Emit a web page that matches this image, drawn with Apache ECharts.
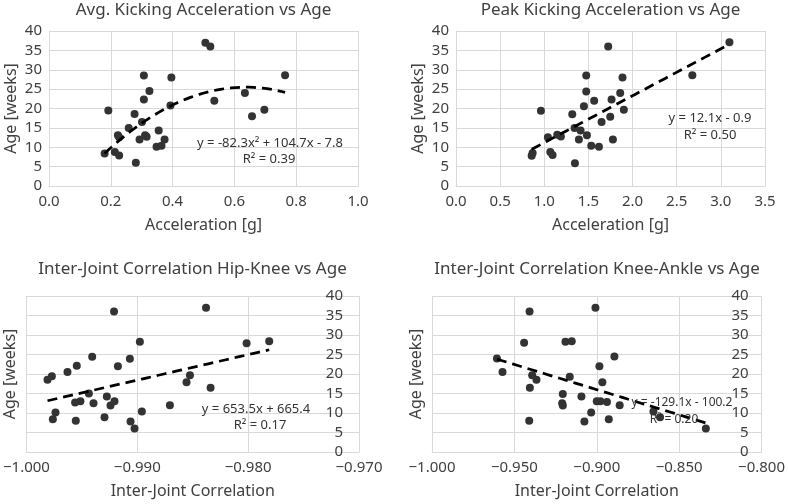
<!DOCTYPE html>
<html>
<head>
<meta charset="utf-8">
<script src="https://cdn.jsdelivr.net/npm/echarts@6/dist/echarts.min.js"></script>
<style>
  html, body { margin: 0; padding: 0; background: #fff; }
  #chart { width: 788px; height: 504px; }
</style>
</head>
<body>
<div id="chart"></div>
<script>
  // values
  var avgAccel = [0.506, 0.522, 0.764, 0.307, 0.396, 0.325, 0.634, 0.307, 0.535, 0.393, 0.697, 0.192, 0.277, 0.657, 0.301,
                  0.258, 0.355, 0.223, 0.227, 0.311, 0.316, 0.293, 0.374, 0.348, 0.364, 0.180, 0.213, 0.227, 0.281];
  var avgAge   = [37.0, 36.0, 28.6, 28.5, 28.0, 24.5, 24.0, 22.3, 22.0, 20.8, 19.7, 19.5, 18.6, 18.0, 16.5,
                  15.0, 14.3, 13.1, 12.6, 13.1, 12.7, 12.0, 12.0, 10.1, 10.4, 8.4, 8.8, 7.9, 6.0];

  var peakAccel = [3.097, 1.724, 2.677, 1.475, 1.886, 1.475, 1.860, 1.565, 1.762, 1.449, 0.962, 1.901, 1.317, 1.747, 1.649,
                   1.343, 1.411, 1.041, 1.147, 1.188, 1.483, 1.392, 1.777, 1.532, 1.619, 1.068, 1.094, 0.868, 0.857, 1.347];
  var peakAge   = [37.1, 36.0, 28.6, 28.5, 28.0, 24.4, 24.0, 22.0, 22.3, 20.6, 19.4, 19.7, 18.5, 17.9, 16.5,
                   15.0, 14.3, 12.6, 13.2, 12.8, 13.1, 12.0, 12.0, 10.4, 10.1, 8.8, 8.0, 8.5, 7.8, 5.9];

  var hipKnee = [-0.9838, -0.9921, -0.98977, -0.9781, -0.98014, -0.99407, -0.99067, -0.99546, -0.99175, -0.9963,
                 -0.99771, -0.9981, -0.98525, -0.98556, -0.98339, -0.99437, -0.99275, -0.99513, -0.99561, -0.99206,
                 -0.99242, -0.99395, -0.98706, -0.99738, -0.98959, -0.99296, -0.99762, -0.99555, -0.99061, -0.99025];
  var hipAge  = [37.0, 36.0, 28.3, 28.4, 27.9, 24.4, 23.9, 22.1, 22.0, 20.5,
                 19.4, 18.5, 19.7, 17.9, 16.5, 15.0, 14.2, 13.0, 12.7, 13.0,
                 11.9, 12.5, 12.0, 10.1, 10.4, 8.9, 8.4, 8.0, 7.8, 6.0];

  var kneeAnkle = [-0.9008, -0.9408, -0.9441, -0.9190, -0.9152, -0.8893, -0.9606, -0.8984, -0.9572, -0.9392,
                   -0.9164, -0.9366, -0.8966, -0.9406, -0.9206, -0.9093, -0.9000, -0.8978, -0.8938, -0.9210,
                   -0.9206, -0.8861, -0.8656, -0.9034, -0.8616, -0.8927, -0.9410, -0.9075, -0.8338];
  var ankleAge  = [37.0, 36.0, 28.0, 28.3, 28.4, 24.5, 24.0, 22.0, 20.5, 19.7,
                   19.3, 18.5, 17.9, 16.5, 14.9, 14.2, 13.0, 13.0, 12.8, 12.5,
                   11.9, 12.0, 10.4, 10.1, 8.9, 8.4, 8.0, 7.8, 6.0];

  // trendline coefficients as printed on the chart: a*x^2 + b*x + c
  var avgFit   = [-82.3, 104.7, -7.8];
  var peakFit  = [0, 12.1, -0.9];
  var hipFit   = [0, 653.5, 665.4];
  var ankleFit = [0, -129.1, -100.2];

  var titles = ['Avg. Kicking Acceleration vs Age', 'Peak Kicking Acceleration vs Age',
                'Inter-Joint Correlation Hip-Knee vs Age', 'Inter-Joint Correlation Knee-Ankle vs Age'];
  var eqTexts = [['y = -82.3x\u00b2 + 104.7x - 7.8', 'R\u00b2 = 0.39'],
                 ['y = 12.1x - 0.9', 'R\u00b2 = 0.50'],
                 ['y = 653.5x + 665.4', 'R\u00b2 = 0.17'],
                 ['y = -129.1x - 100.2', 'R\u00b2 = 0.20']];

  var F = 'Noto Sans';
  var TXT = '#404040';
  var GRID = '#d9d9d9';

  function pairs(xs, ys) {
    return xs.map(function (x, i) { return [x, ys[i]]; });
  }

  function fitCurve(xs, c) {
    var lo = Math.min.apply(null, xs), hi = Math.max.apply(null, xs);
    var out = [];
    for (var i = 0; i <= 40; i++) {
      var x = lo + (hi - lo) * i / 40;
      out.push([x, c[0] * x * x + c[1] * x + c[2]]);
    }
    return out;
  }

  function minusFmt(d) {
    return function (v) { return v.toFixed(d).replace('-', '\u2212'); };
  }

  function xAx(idx, min, max, step, name, fmt) {
    return {
      gridIndex: idx, type: 'value', min: min, max: max, interval: step,
      name: name, nameLocation: 'middle', nameGap: 31,
      nameTextStyle: { fontSize: 16, color: TXT, fontFamily: F },
      axisLine: { onZero: false, lineStyle: { color: GRID } },
      axisTick: { show: false },
      axisLabel: { fontSize: 15, color: TXT, fontFamily: F, margin: 8, formatter: fmt },
      splitLine: { lineStyle: { color: GRID } }
    };
  }

  function yAx(idx, pos, margin) {
    var right = pos === 'right';
    return {
      gridIndex: idx, type: 'value', min: 0, max: 40, interval: 5, position: pos,
      name: right ? '' : 'Age [weeks]', nameLocation: 'middle', nameGap: 30,
      nameTextStyle: { fontSize: 16, color: TXT, fontFamily: F },
      axisLine: { show: !right, onZero: false, lineStyle: { color: GRID } },
      axisTick: { show: false },
      axisLabel: { fontSize: 15, color: TXT, fontFamily: F, inside: right, margin: margin },
      splitLine: { lineStyle: { color: GRID } }
    };
  }

  // name-only axis on the left of the bottom panels
  function nameAx(idx) {
    return {
      gridIndex: idx, type: 'value', min: 0, max: 40, position: 'left',
      name: 'Age [weeks]', nameLocation: 'middle', nameGap: 8,
      nameTextStyle: { fontSize: 16, color: TXT, fontFamily: F },
      axisLine: { show: false }, axisTick: { show: false },
      axisLabel: { show: false }, splitLine: { show: false }
    };
  }

  function scatter(i, yi, data) {
    return {
      type: 'scatter', xAxisIndex: i, yAxisIndex: yi, data: data,
      symbolSize: 8, itemStyle: { color: '#333333', opacity: 1 }, z: 3
    };
  }

  function trend(i, yi, data) {
    return {
      type: 'line', xAxisIndex: i, yAxisIndex: yi, data: data,
      showSymbol: false, symbol: 'none', z: 4,
      lineStyle: { color: '#000', width: 2.75, type: [10, 6] }
    };
  }

  var titleSpots = [[203.5, 2], [610.5, 2], [192.5, 261], [597, 261]];
  var eqSpots = [[270, 143, 269, 159, 13], [710, 118, 710, 135, 13], [256, 409, 260, 425, 13], [682, 403, 674, 420, 12]];

  var graphics = [];
  eqSpots.forEach(function (p, i) {
    graphics.push({ type: 'text', x: p[0], y: p[1], z: 10, style: { text: eqTexts[i][0], fontSize: p[4], fontFamily: F, fill: '#333', align: 'center', verticalAlign: 'middle' } });
    graphics.push({ type: 'text', x: p[2], y: p[3], z: 10, style: { text: eqTexts[i][1], fontSize: p[4], fontFamily: F, fill: '#333', align: 'center', verticalAlign: 'middle' } });
  });

  var chart = echarts.init(document.getElementById('chart'));

  var option = {
    backgroundColor: '#fff',
    animation: false,
    textStyle: { fontFamily: F },
    title: titles.map(function (t, i) {
      return {
        text: t, left: titleSpots[i][0], top: titleSpots[i][1], textAlign: 'center', padding: 0,
        textStyle: { fontSize: 17, fontWeight: 'normal', color: TXT, fontFamily: F }
      };
    }),
    grid: [
      { left: 49, top: 31, width: 309, height: 155 },
      { left: 456, top: 31, width: 309, height: 155 },
      { left: 26, top: 296, width: 333, height: 156 },
      { left: 432, top: 296, width: 330, height: 156 }
    ],
    xAxis: [
      xAx(0, 0, 1, 0.2, 'Acceleration [g]', minusFmt(1)),
      xAx(1, 0, 3.5, 0.5, 'Acceleration [g]', minusFmt(1)),
      xAx(2, -1, -0.97, 0.01, 'Inter-Joint Correlation', minusFmt(3)),
      xAx(3, -1, -0.8, 0.05, 'Inter-Joint Correlation', minusFmt(3))
    ],
    yAxis: [
      yAx(0, 'left', 7),
      yAx(1, 'left', 7),
      yAx(2, 'right', 16),
      yAx(3, 'right', 13),
      nameAx(2),
      nameAx(3)
    ],
    graphic: graphics,
    series: [
      scatter(0, 0, pairs(avgAccel, avgAge)),
      trend(0, 0, fitCurve(avgAccel, avgFit)),
      scatter(1, 1, pairs(peakAccel, peakAge)),
      trend(1, 1, fitCurve(peakAccel, peakFit)),
      scatter(2, 2, pairs(hipKnee, hipAge)),
      trend(2, 2, fitCurve(hipKnee, hipFit)),
      scatter(3, 3, pairs(kneeAnkle, ankleAge)),
      trend(3, 3, fitCurve(kneeAnkle, ankleFit))
    ]
  };

  chart.setOption(option);
  window.addEventListener('resize', function () {
    chart.resize();
  });
</script>
</body>
</html>
